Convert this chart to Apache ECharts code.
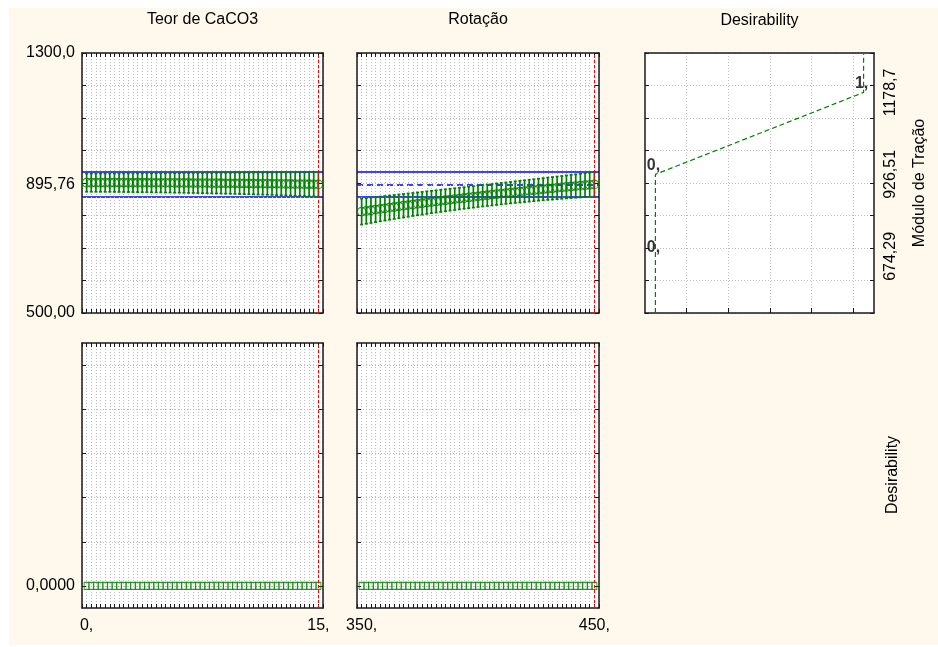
<!DOCTYPE html>
<html><head><meta charset="utf-8">
<script src="https://cdn.jsdelivr.net/npm/echarts@6/dist/echarts.min.js"></script>
<style>
html,body{margin:0;padding:0;background:#fff;}
#bg{position:absolute;left:9px;top:8px;width:929px;height:637px;background:#FFF8EC;}
#chart{position:absolute;left:0;top:0;width:938px;height:647px;}
</style></head><body><div id="bg"></div><div id="chart"></div>
<script>
const FONT = "'Liberation Sans', Arial, Helvetica, sans-serif";

// ---- data ----
const caco3 = [0,0.3,0.6,0.9,1.2,1.5,1.8,2.1,2.4,2.7,3,3.3,3.6,3.9,4.2,4.5,4.8,5.1,5.4,5.7,6,6.3,6.6,6.9,7.2,7.5,7.8,8.1,8.4,8.7,9,9.3,9.6,9.9,10.2,10.5,10.8,11.1,11.4,11.7,12,12.3,12.6,12.9,13.2,13.5,13.8,14.1,14.4,14.7,15];
const rotacao = [350,352,354,356,358,360,362,364,366,368,370,372,374,376,378,380,382,384,386,388,390,392,394,396,398,400,402,404,406,408,410,412,414,416,418,420,422,424,426,428,430,432,434,436,438,440,442,444,446,448,450];
const moduloCaco3 = [901.0,901.0,901.0,901.0,901.0,901.0,900.9,900.9,900.9,900.8,900.8,900.8,900.7,900.7,900.6,900.5,900.5,900.4,900.3,900.2,900.2,900.1,900.0,899.9,899.8,899.7,899.6,899.5,899.4,899.2,899.1,899.0,898.9,898.7,898.6,898.4,898.3,898.1,898.0,897.8,897.7,897.5,897.3,897.1,896.9,896.8,896.6,896.4,896.2,896.0,895.76];
const erroCaco3 = [28.0,28.1,28.1,28.2,28.3,28.3,28.4,28.5,28.6,28.7,28.8,28.9,29.0,29.1,29.3,29.4,29.5,29.7,29.8,30.0,30.1,30.3,30.5,30.6,30.8,31.0,31.2,31.4,31.6,31.8,32.0,32.2,32.5,32.7,32.9,33.2,33.4,33.7,33.9,34.2,34.5,34.8,35.0,35.3,35.6,35.9,36.2,36.5,36.9,37.2,37.5];
const moduloRotacao = [812.0,814.1,816.1,818.2,820.2,822.2,824.2,826.2,828.2,830.1,832.0,833.9,835.8,837.7,839.6,841.4,843.3,845.1,846.9,848.7,850.4,852.2,853.9,855.6,857.3,859.0,860.7,862.3,864.0,865.6,867.2,868.8,870.3,871.9,873.4,874.9,876.4,877.9,879.4,880.9,882.3,883.7,885.1,886.5,887.9,889.2,890.6,891.9,893.2,894.5,895.76];
const erroRotacao = [40.0,39.5,39.0,38.6,38.1,37.7,37.3,36.9,36.5,36.2,35.8,35.5,35.2,34.9,34.7,34.4,34.2,34.0,33.8,33.6,33.5,33.4,33.2,33.1,33.1,33.0,33.0,32.9,32.9,33.0,33.0,33.0,33.1,33.2,33.3,33.4,33.6,33.7,33.9,34.1,34.3,34.6,34.8,35.1,35.4,35.7,36.0,36.4,36.7,37.1,37.5];
const desirCaco3 = [0,0,0,0,0,0,0,0,0,0,0,0,0,0,0,0,0,0,0,0,0,0,0,0,0,0,0,0,0,0,0,0,0,0,0,0,0,0,0,0,0,0,0,0,0,0,0,0,0,0,0];
const desirRotacao = [0,0,0,0,0,0,0,0,0,0,0,0,0,0,0,0,0,0,0,0,0,0,0,0,0,0,0,0,0,0,0,0,0,0,0,0,0,0,0,0,0,0,0,0,0,0,0,0,0,0,0];
const desirResp = [500, 674.29, 926.51, 1178.7, 1300];
const desirVal = [0, 0, 0, 1, 1];
const desirPointText = ['', '0,', '0,', '1,', ''];
const currentCaco3 = 15;
const currentRotacao = 450;
const currentModulo = 895.76;
const moduloCI = [858.26, 933.26];

// ---- tick labels ----
const moduloTickVals = [500, 895.76, 1300];
const moduloTickText = ['500,00', '895,76', '1300,0'];
const desirTickVals = [0];
const desirTickText = ['0,0000'];
const caco3TickVals = [0, 15];
const caco3TickText = ['0,', '15,'];
const rotTickVals = [350, 450];
const rotTickText = ['350,', '450,'];
const respTickVals = [674.29, 926.51, 1178.7];
const respTickText = ['674,29', '926,51', '1178,7'];
const desirFnGrid = [0.15, 0.35, 0.55, 0.75, 0.95];
const desirRowTicks = [0, 0.2, 0.4, 0.6, 0.8, 1.0];
const titles = ['Teor de CaCO3', 'Rotação', 'Desirability'];
const respName = 'Módulo de Tração';
const desirName = 'Desirability';

// ---- styles ----
const INK = '#1a1a1a';
const GRIDC = '#bdbdbd';
const GREEN = '#008000';

function fmt(vals, texts) {
  return v => { for (let i = 0; i < vals.length; i++) if (Math.abs(vals[i] - v) < 1e-6) return texts[i]; return ''; };
}
function axis(gi, pos, min, max, o) {
  o = o || {};
  const a = {
    type: 'value', gridIndex: gi, position: pos, min: min, max: max,
    axisLine: { show: true, onZero: false, lineStyle: { color: INK, width: 1.5 } },
    axisTick: { show: !o.noTicks, inside: true, length: o.tickLen || 4, lineStyle: { color: INK, width: 1 } },
    axisLabel: { show: false },
    splitLine: { show: !!o.split, lineStyle: { color: GRIDC, type: [1, 2], width: 1 } },
    z: 3
  };
  if (o.interval) a.interval = o.interval;
  if (o.ticks) a.axisTick.customValues = o.ticks;
  if (o.labels) {
    a.axisLabel = { show: true, customValues: o.labels[0], formatter: fmt(o.labels[0], o.labels[1]),
      color: '#000', fontSize: 16, fontFamily: FONT, margin: o.margin || 8, rotate: o.rotate || 0, hideOverlap: false };
  }
  return a;
}

const xAxes = [
  axis(0, 'bottom', -0.3, 15.3, { interval: 0.3, split: true }),
  axis(0, 'top', -0.3, 15.3, { interval: 0.3 }),
  axis(1, 'bottom', 348, 452, { interval: 2, split: true }),
  axis(1, 'top', 348, 452, { interval: 2 }),
  axis(2, 'bottom', -0.05, 1.05, { ticks: desirFnGrid, split: true, tickLen: 5 }),
  axis(2, 'top', -0.05, 1.05, { ticks: desirFnGrid, noTicks: true }),
  axis(3, 'bottom', -0.3, 15.3, { interval: 0.3, split: true, labels: [caco3TickVals, caco3TickText], margin: 10 }),
  axis(3, 'top', -0.3, 15.3, { interval: 0.3 }),
  axis(4, 'bottom', 348, 452, { interval: 2, split: true, labels: [rotTickVals, rotTickText], margin: 10 }),
  axis(4, 'top', 348, 452, { interval: 2 }),
  { type: 'value', gridIndex: 5, show: false }
];
const yAxes = [
  axis(0, 'left', 500, 1300, { interval: 100, split: true, labels: [moduloTickVals, moduloTickText], margin: 7 }),
  axis(0, 'right', 500, 1300, { interval: 100 }),
  axis(1, 'left', 500, 1300, { interval: 100, split: true }),
  axis(1, 'right', 500, 1300, { interval: 100 }),
  axis(2, 'left', 500, 1300, { interval: 100, split: true }),
  axis(2, 'right', 500, 1300, { interval: 100, labels: [respTickVals, respTickText], rotate: 90, margin: 9 }),
  axis(3, 'left', -0.1, 1.1, { ticks: desirRowTicks, split: true, labels: [desirTickVals, desirTickText], margin: 7 }),
  axis(3, 'right', -0.1, 1.1, { ticks: desirRowTicks }),
  axis(4, 'left', -0.1, 1.1, { ticks: desirRowTicks, split: true }),
  axis(4, 'right', -0.1, 1.1, { ticks: desirRowTicks }),
  { type: 'value', gridIndex: 5, show: false }
];

function errSeries(xi, yi, xs, mid, err, blue) {
  const s = {
    type: 'custom', xAxisIndex: xi, yAxisIndex: yi, z: 3, silent: true, animation: false,
    data: xs.map((x, i) => [x, mid[i] - err[i], mid[i] + err[i]]),
    encode: { x: 0, y: [1, 2] },
    renderItem: (p, api) => {
      const x = api.value(0);
      const lo = api.coord([x, api.value(1)]);
      const hi = api.coord([x, api.value(2)]);
      const c = 1.5;
      const st = { stroke: GREEN, lineWidth: 1.7 };
      return { type: 'group', children: [
        { type: 'line', shape: { x1: lo[0], y1: lo[1], x2: hi[0], y2: hi[1] }, style: st },
        { type: 'line', shape: { x1: lo[0] - c, y1: lo[1], x2: lo[0] + c, y2: lo[1] }, style: st },
        { type: 'line', shape: { x1: hi[0] - c, y1: hi[1], x2: hi[0] + c, y2: hi[1] }, style: st }
      ] };
    }
  };
  const lines = [
    { yAxis: moduloCI[0], lineStyle: { color: '#0000ff', type: 'solid', width: 1.5 } },
    { yAxis: moduloCI[1], lineStyle: { color: '#0000ff', type: 'solid', width: 1.5 } }
  ];
  if (blue) lines.push({ yAxis: currentModulo, lineStyle: { color: '#0000ff', type: [6, 4], width: 1.5 } });
  s.markLine = { silent: true, z: 2, symbol: ['none', 'none'], label: { show: false }, animation: false, data: lines };
  return s;
}
function pointSeries(xi, yi, xs, ys, sym, size, bw, current) {
  return {
    type: 'scatter', xAxisIndex: xi, yAxisIndex: yi, z: 4, silent: true, animation: false,
    symbol: sym, symbolSize: size,
    itemStyle: { color: 'rgba(0,0,0,0)', borderColor: GREEN, borderWidth: bw },
    data: xs.map((x, i) => [x, ys[i]]),
    markLine: { silent: true, z: 6, symbol: ['none', 'none'], label: { show: false }, animation: false,
      data: [{ xAxis: current, lineStyle: { color: '#ff0000', type: [3, 2], width: 1 } }] }
  };
}

const series = [
  errSeries(0, 0, caco3, moduloCaco3, erroCaco3, false),
  pointSeries(0, 0, caco3, moduloCaco3, 'circle', 8.5, 1.3, currentCaco3),
  errSeries(2, 2, rotacao, moduloRotacao, erroRotacao, true),
  pointSeries(2, 2, rotacao, moduloRotacao, 'circle', 8.5, 1.3, currentRotacao),
  pointSeries(6, 6, caco3, desirCaco3, 'rect', [5, 7], 1.1, currentCaco3),
  pointSeries(8, 8, rotacao, desirRotacao, 'rect', [5, 7], 1.1, currentRotacao),
  {
    type: 'line', xAxisIndex: 4, yAxisIndex: 4, z: 3, silent: true, animation: false,
    symbol: 'none', lineStyle: { color: GREEN, type: [5, 3], width: 1.2 },
    data: desirVal.map((d, i) => [d, desirResp[i]])
  },
  {
    type: 'scatter', xAxisIndex: 4, yAxisIndex: 4, z: 5, silent: true, animation: false,
    symbolSize: 0,
    label: { show: true, position: 'top', distance: 1, offset: [-2, 0], color: '#000', fontWeight: 'bold',
      fontSize: 16, fontFamily: FONT, textBorderWidth: 0, formatter: p => desirPointText[p.dataIndex] },
    data: desirVal.map((d, i) => [d, desirResp[i]])
  }
];

function txt(s, x, y, rot) {
  return { type: 'text', x: x, y: y, rotation: rot || 0, z: 10, silent: true,
    style: { text: s, fill: '#000', font: '16px ' + FONT, align: 'center', verticalAlign: 'middle' } };
}

const chart = echarts.init(document.getElementById('chart'), null, { renderer: 'canvas' });
chart.setOption({
  backgroundColor: 'transparent',
  animation: false,
  grid: [
    { left: 82, top: 53, width: 241, height: 260, show: true, backgroundColor: '#fff', borderWidth: 0 },
    { left: 357, top: 53, width: 242, height: 260, show: true, backgroundColor: '#fff', borderWidth: 0 },
    { left: 645, top: 53, width: 229, height: 260, show: true, backgroundColor: '#fff', borderWidth: 0 },
    { left: 82, top: 343, width: 241, height: 265, show: true, backgroundColor: '#fff', borderWidth: 0 },
    { left: 357, top: 343, width: 242, height: 265, show: true, backgroundColor: '#fff', borderWidth: 0 },
    { left: 645, top: 343, width: 229, height: 265, show: false }
  ],
  xAxis: xAxes,
  yAxis: yAxes,
  series: series,
  graphic: [
    txt(titles[0], 202.5, 20),
    txt(titles[1], 478, 20),
    txt(titles[2], 759.5, 21),
    txt(respName, 920, 183, Math.PI / 2),
    txt(desirName, 893, 475, Math.PI / 2)
  ]
});
</script>
</body></html>
